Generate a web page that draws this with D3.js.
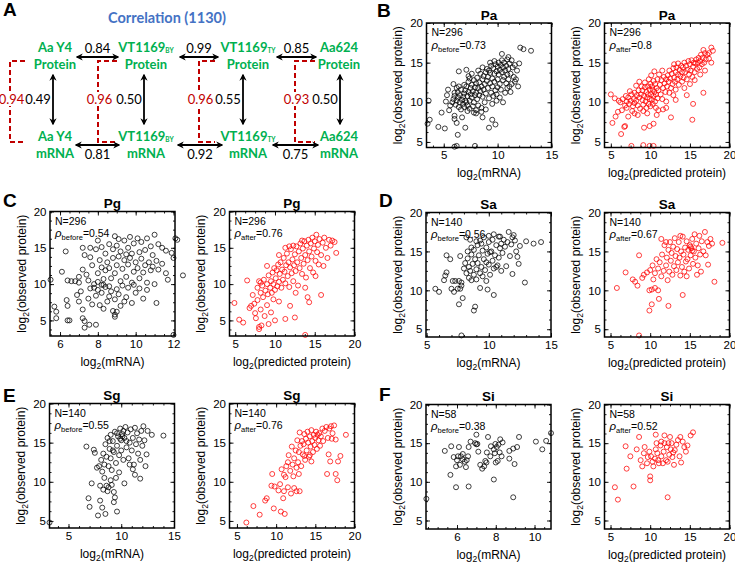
<!DOCTYPE html>
<html>
<head>
<meta charset="utf-8">
<script src="https://cdn.jsdelivr.net/npm/d3@7"></script>
<style>
  body { margin: 0; background: #fff; }
</style>
</head>
<body>
<svg width="735" height="562"></svg>
<script>
// ---------- panel A values ----------
var strainNames = ['Aa Y4', 'VT1169', 'VT1169', 'Aa624'];
var strainSubs = ['', 'BY', 'TY', ''];
var protProtCorr = [0.84, 0.99, 0.85];
var mrnaMrnaCorr = [0.81, 0.92, 0.75];
var protMrnaCorr = [0.49, 0.50, 0.55, 0.50];
var predCorr = [0.94, 0.96, 0.96, 0.93];

// ---------- scatter values: [log2 x, log2 observed protein] ----------
var species = ['Pa', 'Pg', 'Sa', 'Sg', 'Si'];
var counts = [296, 296, 140, 140, 58];
var rhoBefore = [0.73, 0.54, 0.56, 0.55, 0.38];
var rhoAfter = [0.8, 0.76, 0.67, 0.76, 0.52];
var yTicks = [5, 10, 15, 20];
var xTicksMrna = [[5, 10, 15], [6, 8, 10, 12], [5, 10, 15], [5, 10, 15], [6, 8, 10]];
var xTicksPred = [5, 10, 15, 20];

var paMrna = [[3.5,7.3],[3.7,7.8],[3.6,10.2],[4.5,6.9],[5.1,6.7],[4.8,8.7],[5.2,10.1],[5.3,10.9],[5.4,11.6],[5.5,9.0],[5.6,9.6],[6.0,4.4],[6.2,4.5],[6.3,5.9],[6.2,7.4],[6.0,7.9],[6.0,8.3],[6.4,13.9],[6.7,8.1],[7.0,6.8],[7.9,4.5],[8.6,8.1],[9.2,6.8],[9.5,7.8],[9.8,7.2],[12.1,16.9],[12.4,16.7],[13.1,16.5],[12.0,14.9],[11.6,12.6],[11.9,12.0],[11.2,11.3],[6.9,12.2],[7.3,13.3],[7.1,14.1],[10.4,16.1],[11.0,15.7],[10.9,15.4],
  [5.8,10.0],[5.9,10.4],[6.0,10.8],[6.1,9.7],[6.2,10.2],[6.3,10.6],[6.3,11.3],[6.4,9.4],[6.5,10.0],[6.5,10.9],[6.6,11.6],[6.7,10.3],[6.8,9.8],[6.8,10.7],[6.9,11.1],[6.0,11.2],[6.2,11.8],[6.6,9.1],[6.9,9.4],[7.0,10.2],[6.4,12.0],[5.9,12.3],
  [7.0,11.5],[7.1,10.0],[7.1,12.0],[7.2,9.6],[7.2,10.8],[7.3,11.3],[7.3,12.6],[7.4,10.2],[7.4,9.2],[7.5,11.0],[7.5,11.8],[7.6,10.6],[7.6,12.2],[7.7,9.5],[7.7,11.4],[7.8,10.0],[7.8,12.8],[7.9,10.9],[7.9,11.9],[8.0,9.0],[8.0,11.2],[8.0,12.4],[7.4,13.0],[7.6,13.6],[7.2,8.9],[7.8,8.7],
  [8.1,10.4],[8.1,13.1],[8.2,11.8],[8.2,9.6],[8.3,12.5],[8.3,10.9],[8.4,11.4],[8.4,13.6],[8.5,12.0],[8.5,9.3],[8.6,10.7],[8.6,12.9],[8.7,11.6],[8.7,13.3],[8.8,12.3],[8.8,10.0],[8.9,13.8],[8.9,11.1],[9.0,12.7],[9.0,14.2],[8.2,14.0],[8.6,14.4],[8.0,8.6],[8.5,8.8],[8.9,9.1],
  [9.1,13.2],[9.1,11.8],[9.2,14.0],[9.2,10.5],[9.3,12.4],[9.3,13.7],[9.4,14.6],[9.4,11.2],[9.5,13.0],[9.5,12.0],[9.6,14.3],[9.6,10.8],[9.7,13.6],[9.7,12.6],[9.8,14.8],[9.8,11.5],[9.9,13.9],[9.9,10.2],[10.0,14.5],[10.0,12.9],[9.3,15.0],[9.7,15.2],[9.5,9.8],[9.9,11.0],
  [10.1,13.5],[10.1,15.0],[10.2,14.1],[10.2,12.3],[10.3,14.7],[10.3,11.6],[10.4,13.8],[10.4,15.3],[10.5,14.4],[10.5,12.8],[10.6,15.0],[10.6,13.2],[10.7,14.0],[10.7,11.2],[10.8,14.6],[10.8,12.4],[10.9,13.5],[11.0,14.2],[11.0,12.9],[10.2,10.6],[10.5,10.0],[10.9,11.8],[10.0,11.9],
  [11.1,14.9],[11.2,13.6],[11.3,15.3],[11.4,14.4],[11.5,13.2],[11.6,14.7],[11.7,12.9],[11.8,14.0],[11.3,12.3],[11.1,12.0]];

var paPredicted = [[5.0,11.0],[5.2,7.4],[5.6,8.2],[5.9,8.8],[6.3,6.0],[6.7,6.9],[6.8,7.0],[7.6,4.5],[9.1,4.6],[9.9,4.5],[10.4,4.5],[9.2,6.8],[9.9,7.0],[10.4,7.3],[12.6,8.1],[15.3,7.8],[15.4,9.8],[14.6,10.9],[16.7,11.2],[5.5,10.5],[6.0,10.2],[6.4,9.0],[7.2,8.2],[7.0,9.3],[8.0,8.6],[12.0,9.3],[13.2,10.3],[11.6,9.1],[17.7,16.9],[17.9,16.5],[17.4,16.2],[17.7,15.0],[16.9,14.0],[17.4,15.5],
  [6.2,10.0],[6.5,10.4],[6.8,9.6],[7.0,10.1],[7.2,10.6],[7.3,9.8],[7.5,10.2],[7.6,11.0],[7.8,9.5],[7.9,10.4],[8.0,11.2],[8.0,9.9],[7.4,11.4],[6.9,10.8],[7.7,8.9],[8.2,12.1],
  [8.2,10.2],[8.3,10.9],[8.4,9.6],[8.5,11.5],[8.6,10.6],[8.7,9.2],[8.8,11.0],[8.9,12.0],[9.0,10.3],[9.0,11.5],[9.1,9.7],[9.2,10.8],[9.3,11.9],[9.3,12.5],[9.4,10.1],[9.5,11.3],[9.5,9.3],[9.6,10.6],[9.7,12.0],[9.7,11.0],[9.8,9.8],[9.8,12.9],[9.9,11.6],[9.9,10.4],[10.0,12.3],[10.0,9.5],[8.6,12.6],[9.1,8.9],[9.6,8.6],[8.4,8.4],
  [10.1,11.0],[10.1,13.4],[10.2,10.3],[10.2,12.0],[10.3,11.6],[10.3,9.8],[10.4,12.7],[10.4,10.8],[10.5,11.3],[10.5,13.9],[10.6,10.1],[10.6,12.3],[10.7,11.0],[10.7,9.3],[10.8,11.8],[10.9,12.9],[10.9,10.5],[11.0,11.5],[11.0,9.0],[11.2,12.2],[11.3,11.0],[11.4,12.8],[11.5,10.4],[11.6,11.8],[11.7,13.2],[11.8,12.4],[11.9,11.3],[12.0,12.9],[11.1,13.5],[11.5,14.0],[12.0,10.1],[10.8,8.4],
  [12.1,12.0],[12.2,13.4],[12.3,12.6],[12.4,14.0],[12.5,13.0],[12.6,11.8],[12.7,13.6],[12.8,12.3],[12.9,14.3],[13.0,13.1],[13.0,14.8],[13.1,12.6],[13.2,13.8],[13.3,14.4],[13.4,12.9],[13.5,13.5],[13.5,14.9],[13.6,12.2],[13.7,14.1],[13.8,13.3],[13.9,14.6],[14.0,13.8],[14.0,12.6],[12.4,11.2],[13.2,11.6],[12.9,10.9],
  [14.1,14.4],[14.2,13.1],[14.3,15.0],[14.4,13.8],[14.5,14.6],[14.6,12.9],[14.7,14.1],[14.8,15.2],[14.9,13.5],[15.0,14.8],[15.1,14.0],[15.2,15.3],[15.3,13.2],[15.4,14.5],[15.5,15.0],[15.6,13.8],[15.7,14.9],[15.8,15.4],[15.9,14.2],[16.0,15.0],[14.3,11.8],[15.0,12.3],[15.6,12.8],
  [16.1,15.6],[16.2,14.4],[16.3,15.2],[16.4,16.0],[16.5,14.8],[16.6,15.6],[16.7,16.6],[16.8,15.0],[16.9,16.2],[17.0,15.4],[17.2,16.0],[16.3,13.5]];

var pgMrna = [[7.2,15.0],[7.3,14.0],[7.6,15.0],[7.9,14.8],[8.2,15.1],[8.4,14.2],[8.6,15.5],[8.8,14.8],[9.0,15.3],[9.2,14.5],[9.4,16.0],[9.6,15.0],[9.7,16.5],[9.9,15.6],[10.1,16.3],[10.3,15.8],[10.5,14.7],[10.6,16.3],[10.8,15.2],[11.0,16.8],[11.2,15.5],[11.4,15.0],[11.6,14.6],[12.1,16.3],[12.2,16.1],[11.9,14.3],[10.9,14.0],[9.1,16.2],[8.9,16.6],[9.8,14.2],[9.5,14.1],[8.0,16.0],[7.6,13.7],[10.2,14.4],
  [6.3,14.5],[6.1,11.7],[6.4,10.5],[6.6,10.4],[6.8,10.4],[7.0,10.2],[7.2,12.0],[7.4,11.3],[7.5,10.5],[7.7,12.6],[7.8,10.0],[8.0,11.5],[8.1,13.3],[8.2,12.3],[8.3,10.7],[8.4,11.9],[8.5,13.0],[8.6,12.2],[8.7,10.8],[8.8,13.6],[8.9,11.5],[9.0,12.6],[9.1,13.8],[9.2,10.4],[9.3,12.1],[9.4,13.3],[9.5,11.0],[9.6,12.7],[9.7,13.6],[9.8,10.2],[9.9,11.7],[10.0,13.0],[10.1,12.2],[10.2,10.8],[10.3,13.5],[10.4,11.6],[10.5,12.6],[10.6,10.2],[10.7,13.0],[10.8,11.9],[10.9,12.4],[11.0,10.0],[11.1,13.2],[11.2,12.0],[11.4,12.8],[11.6,11.5],[11.7,10.6],[12.5,11.2],[12.0,13.6],[8.0,10.3],[8.3,9.9],[7.0,11.0],
  [5.5,10.6],[5.7,6.9],[5.8,6.2],[5.8,5.3],[6.35,7.8],[6.4,7.0],[6.4,5.0],[6.5,5.0],[6.9,8.5],[7.0,7.6],[7.1,9.0],[7.2,6.5],[7.2,5.3],[7.3,4.9],[7.3,4.0],[7.5,8.0],[7.55,4.4],[7.6,9.4],[7.7,7.2],[7.9,4.4],[7.9,8.4],[8.0,9.2],[8.1,7.1],[8.2,8.8],[8.3,6.6],[8.4,9.6],[8.5,7.6],[8.6,8.3],[8.7,9.0],[8.8,6.3],[8.9,7.9],[9.0,6.2],[9.0,9.3],[9.1,8.6],[9.2,7.0],[9.3,9.8],[9.5,8.2],[9.6,9.5],[9.8,7.4],[10.0,8.8],[10.2,9.4],[10.4,8.0],[11.1,7.4],[12.0,3.0],[8.9,5.5],[8.9,5.8],[9.4,7.6],[8.2,9.9],[7.8,9.5],[8.6,9.7],[9.9,9.9],[10.6,9.2]];

var pgPredicted = [[4.9,7.4],[5.5,5.1],[6.0,4.7],[6.5,10.5],[6.8,6.7],[7.0,7.0],[7.2,8.5],[7.5,6.0],[7.4,7.3],[7.6,5.3],[7.8,7.8],[8.0,4.1],[8.3,4.3],[8.0,3.8],[8.2,6.5],[8.5,8.2],[8.7,5.6],[9.0,7.1],[9.2,4.5],[9.5,6.1],[10.0,5.0],[11.3,5.2],[12.5,5.4],[13.8,3.0],[14.3,7.5],[15.8,8.5],[11.9,7.0],[10.5,7.6],[9.8,7.9],
  [7.8,9.5],[8.0,10.4],[8.2,8.8],[8.4,9.8],[8.6,10.6],[8.8,9.1],[9.0,10.0],[9.1,8.6],[9.2,11.2],[9.4,9.5],[9.5,10.4],[9.6,8.8],[9.7,11.6],[9.8,10.0],[9.9,12.2],[10.0,9.2],[10.1,10.8],[10.2,11.9],[10.3,9.7],[10.4,12.7],[10.5,10.3],[10.6,11.4],[10.7,13.0],[10.8,9.5],[10.9,12.0],[11.0,10.6],[11.1,13.6],[11.2,11.7],[11.3,10.1],[11.4,12.6],[11.5,14.2],[11.6,11.1],[11.7,13.0],[11.8,9.6],[11.9,12.3],[12.0,14.8],[12.1,11.5],[12.2,13.4],[12.3,10.4],[12.4,12.6],[12.5,14.1],[12.6,11.8],[12.7,15.2],[12.8,13.0],[12.9,9.8],[13.0,14.5],[13.1,12.2],[13.2,15.6],[13.3,13.6],[13.4,11.4],[13.5,14.9],[13.6,12.8],[13.7,15.9],[13.8,14.0],[13.9,10.9],[14.0,15.3],[14.1,13.3],[14.2,16.1],[14.3,14.5],[14.4,12.2],[14.5,15.6],[14.6,13.8],[14.7,16.4],[14.8,11.6],[14.9,14.9],[15.0,15.9],[15.1,13.2],[15.2,16.8],[15.3,14.4],[15.4,15.4],[15.5,12.7],[15.6,16.2],[15.8,14.0],[16.0,15.7],[16.2,16.4],[16.4,15.0],[16.6,13.6],[16.8,16.1],[17.0,15.3],[17.2,16.0],[17.5,15.8],[17.7,14.3],[16.1,12.5],[15.1,11.1],[11.3,15.0],[10.5,14.0],[9.0,12.5],[8.2,10.2],[12.6,8.8],[13.8,9.5],[14.1,8.2],[12.3,15.3],[11.8,15.2],[13.4,16.0]];

var saMrna = [[5.7,10.2],[6.0,9.8],[6.4,11.3],[6.5,11.9],[6.6,12.3],[6.6,14.5],[6.9,14.0],[7.0,10.2],[7.1,11.2],[7.2,9.8],[7.3,11.2],[7.5,10.2],[7.6,11.2],[7.7,10.2],[7.8,11.0],[7.8,10.6],[7.6,8.2],[7.9,9.0],[7.7,14.4],[7.8,4.2],[8.2,16.8],[8.5,16.5],[8.8,7.4],[8.9,7.9],[9.3,10.3],[9.9,10.1],[10.4,9.4],
  [8.0,12.8],[8.1,13.5],[8.2,12.2],[8.3,14.1],[8.4,11.6],[8.4,13.0],[8.5,12.5],[8.6,14.6],[8.6,11.3],[8.7,13.4],[8.8,12.0],[8.8,15.2],[8.9,14.0],[9.0,12.7],[9.0,11.4],[9.1,15.8],[9.1,13.5],[9.2,14.5],[9.3,12.2],[9.3,16.4],[9.4,13.0],[9.5,15.1],[9.5,11.8],[9.6,14.0],[9.6,16.8],[9.7,12.6],[9.8,15.5],[9.8,13.6],[9.9,14.7],[10.0,13.3],[10.0,16.2],[10.0,17.0],[10.1,12.0],[10.2,15.0],[10.3,13.8],[10.3,16.5],[10.4,12.8],[10.5,14.5],[10.6,15.8],[10.7,13.2],[10.8,16.9],[10.8,14.2],[10.9,15.4],[11.0,16.0],[11.0,12.5],[11.1,14.8],[11.2,16.5],[11.3,15.6],[11.4,13.1],[11.5,16.2],[11.6,17.5],[11.7,14.4],[11.8,15.9],[11.9,12.1],[12.0,17.1],[12.1,16.4],[12.2,15.0],[12.3,14.3],[12.4,13.4],[12.5,15.7],[12.9,11.0],[13.0,16.3],[13.6,16.0],[14.2,16.2],[9.0,16.3],[8.6,15.5],[9.4,16.0],[10.4,17.2],[10.9,16.9],[11.9,16.8],[10.6,13.0],[9.8,11.2],[10.1,14.9],[8.3,15.0]];

var saPredicted = [[5.8,10.3],[6.9,12.3],[7.8,11.4],[8.1,11.1],[8.4,10.6],[8.6,14.5],[9.2,12.0],[9.6,12.3],[9.9,10.0],[10.2,10.1],[9.9,7.4],[10.2,8.2],[8.6,4.2],[11.1,8.9],[12.3,8.0],[14.1,9.4],[18.1,11.1],[19.1,16.1],[9.0,11.6],[10.6,10.3],[11.0,10.0],[10.4,11.4],
  [10.0,12.6],[10.3,13.2],[10.6,12.2],[10.8,14.0],[11.0,12.8],[11.2,13.6],[11.4,11.8],[11.5,14.6],[11.7,12.5],[11.8,15.8],[12.0,13.2],[12.1,14.2],[12.2,11.3],[12.3,15.2],[12.4,12.4],[12.5,16.2],[12.6,13.8],[12.7,14.8],[12.8,12.0],[12.9,15.6],[13.0,13.1],[13.1,16.7],[13.2,14.4],[13.3,12.6],[13.4,15.3],[13.5,13.6],[13.6,16.2],[13.7,14.2],[13.8,11.9],[13.9,15.0],[14.0,13.0],[14.1,16.9],[14.2,14.6],[14.3,12.4],[14.4,15.5],[14.5,13.7],[14.6,16.3],[14.7,14.0],[14.8,15.2],[14.9,12.8],[15.0,15.8],[15.1,14.5],[15.2,15.4],[15.3,16.6],[15.4,13.4],[15.5,15.0],[15.6,17.2],[15.7,14.2],[15.8,16.0],[16.0,13.2],[16.1,15.4],[16.2,17.0],[16.3,14.6],[16.5,16.3],[16.7,15.0],[16.9,17.5],[17.0,14.5],[17.2,16.2],[17.4,15.7],[17.6,16.6],[17.8,16.0],[17.3,13.3],[16.4,12.4],[15.9,12.0],[14.6,11.8],[12.0,16.2],[11.4,16.6],[15.1,15.6],[15.3,15.1],[13.8,17.0]];

var sgMrna = [[3.2,4.8],[6.7,14.5],[6.9,7.9],[7.0,6.8],[7.2,9.8],[7.4,14.1],[7.5,13.7],[7.7,11.8],[7.9,12.0],[8.0,7.6],[7.8,5.7],[8.2,6.7],[8.0,9.5],[8.3,9.0],[8.5,5.9],[9.6,6.2],[9.3,8.7],[9.4,8.0],[9.3,7.4],[14.0,15.9],[12.9,16.0],[12.1,17.1],[11.8,10.4],[11.3,10.9],[11.8,12.8],[12.4,13.5],[8.2,11.3],[8.4,10.5],[8.6,9.5],[8.8,9.3],[9.0,10.2],[8.7,8.8],[9.1,9.6],[9.5,10.5],[10.3,9.8],[9.8,11.2],
  [8.1,12.8],[8.3,13.6],[8.4,12.2],[8.5,14.8],[8.6,13.2],[8.7,15.6],[8.8,12.0],[8.9,14.2],[9.0,16.0],[9.0,13.0],[9.1,11.5],[9.2,15.2],[9.3,13.8],[9.4,16.4],[9.5,12.4],[9.6,14.6],[9.7,15.8],[9.8,13.4],[9.9,16.8],[10.0,15.3],[10.0,14.0],[10.1,16.1],[10.2,12.8],[10.3,15.6],[10.4,17.0],[10.5,14.4],[10.6,16.3],[10.7,13.0],[10.8,15.0],[10.9,16.7],[11.0,14.0],[11.1,15.6],[11.2,12.2],[11.3,16.9],[11.4,14.8],[11.5,16.2],[11.6,13.6],[11.7,15.4],[11.9,16.5],[12.0,14.6],[12.2,15.3],[12.3,12.0],[10.2,16.5],[9.9,15.5],[10.1,15.8],[9.6,16.2],[10.5,15.2],[9.2,14.0],[8.9,15.2],[10.8,12.2],[11.1,11.6],[12.5,16.5]];

var sgPredicted = [[6.2,4.8],[7.1,6.9],[7.9,5.8],[8.6,7.6],[8.8,7.9],[9.4,9.5],[9.5,11.0],[9.8,9.4],[9.7,6.6],[10.6,6.2],[11.1,5.9],[10.9,7.9],[10.3,8.9],[10.5,9.7],[11.0,8.8],[11.5,9.3],[11.9,8.5],[12.3,9.2],[12.6,8.8],[13.0,8.8],[11.2,10.6],[11.5,12.5],[17.6,11.0],[17.9,12.6],[18.2,13.3],[18.9,16.0],[17.8,10.2],[16.5,11.0],[16.7,13.5],[16.9,12.6],[14.5,12.6],
  [10.7,11.6],[11.0,10.9],[11.3,12.0],[11.6,13.4],[11.8,11.4],[12.0,14.5],[12.1,12.2],[12.3,13.0],[12.5,14.0],[12.6,11.8],[12.7,15.3],[12.8,12.5],[12.9,13.8],[13.0,16.3],[13.1,14.6],[13.2,12.0],[13.3,15.2],[13.4,13.5],[13.5,14.8],[13.6,16.1],[13.7,12.8],[13.8,15.5],[13.9,14.0],[14.0,16.4],[14.1,15.0],[14.2,13.2],[14.3,15.8],[14.4,14.5],[14.5,16.6],[14.6,15.2],[14.7,13.8],[14.8,16.0],[14.9,14.7],[15.0,15.6],[15.1,16.4],[15.2,14.2],[15.3,16.0],[15.4,15.3],[15.5,16.2],[15.6,14.6],[15.7,15.8],[15.9,16.8],[16.0,15.2],[16.2,16.5],[16.4,17.0],[16.6,15.6],[16.8,16.8],[17.0,17.1],[17.2,16.2],[17.4,17.2],[17.6,15.4],[17.1,15.5],[14.3,13.4],[13.6,13.3],[12.2,10.7],[12.9,11.0]];

var siMrna = [[4.42,7.8],[5.37,14.0],[5.66,10.9],[5.7,14.6],[5.83,13.2],[5.95,12.0],[6.0,12.8],[6.05,13.3],[6.1,14.5],[6.2,13.3],[6.3,12.9],[6.4,12.6],[6.46,11.9],[6.57,13.3],[6.5,12.8],[6.6,14.5],[6.7,15.2],[5.95,9.3],[6.6,9.4],[6.94,15.0],[7.05,14.9],[7.0,16.1],[7.1,13.9],[7.2,12.2],[7.3,11.7],[7.4,12.0],[7.46,12.7],[7.52,12.5],[7.54,13.8],[7.6,15.8],[7.72,13.3],[7.9,14.2],[7.95,13.7],[7.98,14.9],[8.0,12.5],[7.9,10.3],[8.05,14.5],[8.14,14.8],[8.23,15.5],[8.3,13.3],[8.2,13.8],[8.7,14.0],[8.7,13.0],[8.9,14.3],[8.97,12.3],[8.9,8.0],[9.1,14.5],[9.2,15.8],[10.07,15.2],[10.4,14.2],[10.6,15.3],[10.85,16.3],[8.35,15.1],[6.3,13.6],[7.75,14.6],[8.1,12.7],[6.15,12.2],[7.0,14.85]];

var siPredicted = [[5.55,9.3],[5.93,7.7],[7.03,11.7],[6.9,14.6],[7.5,13.3],[7.9,9.4],[8.6,15.8],[8.3,14.2],[8.8,12.8],[9.0,12.0],[9.2,13.7],[9.3,14.5],[9.6,12.4],[9.7,13.2],[9.9,13.9],[10.0,10.7],[10.0,10.2],[10.1,13.3],[10.3,12.6],[10.4,12.0],[10.6,13.0],[10.7,14.2],[10.8,15.0],[10.7,16.1],[10.9,13.7],[11.0,12.8],[11.1,12.4],[11.3,14.7],[11.4,15.2],[11.4,13.3],[11.6,12.4],[11.7,13.9],[11.8,15.0],[12.0,12.8],[12.1,14.5],[12.2,8.0],[12.3,15.0],[12.4,13.5],[12.5,15.8],[12.6,14.2],[12.7,15.0],[12.8,13.2],[12.9,13.8],[13.0,12.2],[13.3,14.8],[13.5,15.4],[13.7,13.3],[13.9,12.5],[14.1,15.2],[14.3,14.5],[14.5,13.9],[14.7,14.7],[15.1,16.0],[15.4,16.4],[13.8,15.8],[13.1,14.1],[11.8,16.0],[12.2,12.6]];

var mrnaSets = [paMrna, pgMrna, saMrna, sgMrna, siMrna];
var predSets = [paPredicted, pgPredicted, saPredicted, sgPredicted, siPredicted];

// ---------- layout ----------
var FONT = "'Liberation Sans', Arial, sans-serif";
var CAL = "Lato, 'Open Sans', sans-serif";
var PW = 125, PH = 124.5;
var layout = [
  // [mRNA panel, predicted panel] per species; mx = minor x tick step
  [{x0:426.5, y0:23, xd:[3.4,15], yd:[4.3,20], mx:1}, {x0:604.5, y0:23, xd:[4.2,20], yd:[4.3,20], mx:1.25}],
  [{x0:50, y0:211.5, xd:[5.47,12.08], yd:[2.85,20], mx:0.5}, {x0:229.5, y0:211.5, xd:[4.28,20], yd:[2.85,20], mx:1.25}],
  [{x0:426, y0:212.5, xd:[4.95,15], yd:[4,20], mx:1}, {x0:604.5, y0:212.5, xd:[4.24,20], yd:[4,20], mx:1.25}],
  [{x0:49.5, y0:403.5, xd:[3.2,15.05], yd:[4.1,20], mx:1}, {x0:229.5, y0:403.5, xd:[4.05,20], yd:[4.1,20], mx:1.25}],
  [{x0:426, y0:404.5, xd:[4.4,10.85], yd:[3.9,20], mx:0.5}, {x0:604.5, y0:404.5, xd:[4.24,20], yd:[3.9,20], mx:1.25}]
];
var letters = [['A', 3, 16], ['B', 377, 17], ['C', 3, 207], ['D', 379, 207], ['E', 3, 402], ['F', 379, 401]];

var svg = d3.select('svg');

letters.forEach(function(l) {
  svg.append('text').attr('x', l[1]).attr('y', l[2])
    .attr('font-family', FONT).attr('font-size', 19).attr('font-weight', 'bold')
    .text(l[0]);
});

// ---------- panel A ----------
var colX = [55, 146, 248, 339];
var vArrowX = [53, 144, 243, 340];
var topArrows = [[77, 118], [180, 218], [277, 316]];
var botArrows = [[76, 119], [178, 222], [273, 318]];
var bracketX = [10, 98, 199, 295];
var bracketR = [25, 117, 215, 315];
var GREEN = '#00b050', DRED = '#c00000';
var fmt2 = d3.format('.2f');

var defs = svg.append('defs');
defs.append('marker').attr('id', 'ah').attr('viewBox', '0 0 10 10')
  .attr('refX', 8).attr('refY', 5).attr('markerWidth', 4).attr('markerHeight', 4)
  .attr('markerUnits', 'strokeWidth').attr('orient', 'auto-start-reverse')
  .append('path').attr('d', 'M0,0 L10,5 L0,10 L3,5 Z').attr('fill', '#000');

var gA = svg.append('g');
gA.append('text').attr('x', 167).attr('y', 23).attr('text-anchor', 'middle')
  .attr('font-family', CAL).attr('font-size', 14.5).attr('font-weight', 'bold')
  .attr('fill', '#4472c4').text('Correlation (1130)');

function strainLabel(i, y, second) {
  var t = gA.append('text').attr('x', colX[i]).attr('y', y).attr('text-anchor', 'middle')
    .attr('font-family', CAL).attr('font-size', 13).attr('font-weight', 'bold').attr('fill', GREEN);
  t.append('tspan').text(strainNames[i]);
  if (strainSubs[i]) t.append('tspan').attr('font-size', 6.5).attr('dy', 1).text(strainSubs[i]);
  gA.append('text').attr('x', colX[i]).attr('y', y + 16.5).attr('text-anchor', 'middle')
    .attr('font-family', CAL).attr('font-size', 13).attr('font-weight', 'bold').attr('fill', GREEN)
    .text(second);
}
strainNames.forEach(function(s, i) {
  strainLabel(i, 52, 'Protein');
  strainLabel(i, 141, 'mRNA');
});

function dblArrow(x1, y1, x2, y2) {
  gA.append('line').attr('x1', x1).attr('y1', y1).attr('x2', x2).attr('y2', y2)
    .attr('stroke', '#000').attr('stroke-width', 1.8)
    .attr('marker-start', 'url(#ah)').attr('marker-end', 'url(#ah)');
}
function numLabel(x, y, v, color) {
  return gA.append('text').attr('x', x).attr('y', y).attr('text-anchor', 'middle')
    .attr('font-family', CAL).attr('font-size', 13).attr('fill', color).text(fmt2(v));
}

// red dashed brackets (predicted vs observed)
predCorr.forEach(function(v, i) {
  var x0 = bracketX[i], x1 = bracketR[i];
  gA.append('path').attr('d', 'M' + x1 + ',61 H' + x0 + ' V142 H' + x1)
    .attr('fill', 'none').attr('stroke', DRED).attr('stroke-width', 2).attr('stroke-dasharray', '5,3');
  gA.append('rect').attr('x', x0 + 1.5 - 11).attr('y', 92).attr('width', 22).attr('height', 14).attr('fill', '#fff');
  numLabel(x0 + 1.5, 103.5, v, DRED);
});

protProtCorr.forEach(function(v, i) {
  dblArrow(topArrows[i][0], 57, topArrows[i][1], 57);
  numLabel((topArrows[i][0] + topArrows[i][1]) / 2, 53, v, '#000');
});
mrnaMrnaCorr.forEach(function(v, i) {
  dblArrow(botArrows[i][0], 145, botArrows[i][1], 145);
  numLabel((botArrows[i][0] + botArrows[i][1]) / 2, 158.5, v, '#000');
});
protMrnaCorr.forEach(function(v, i) {
  dblArrow(vArrowX[i], 75, vArrowX[i], 124);
  numLabel(vArrowX[i] - 15, 103.5, v, '#000');
});

// ---------- scatter panels ----------
function axisGroup(g, gen, tr, vals, size, labels) {
  var a = g.append('g').attr('transform', tr)
    .call(gen.tickValues(vals).tickSize(size).tickPadding(3.5)
      .tickFormat(labels ? d3.format('d') : function() { return ''; }));
  a.select('.domain').remove();
  a.selectAll('line').attr('stroke', '#000').attr('stroke-width', 0.9);
  a.attr('font-family', FONT).attr('font-size', 11.5);
  a.selectAll('text').attr('fill', '#000');
  return a;
}

function drawPanel(p, pts, color, xTicks, xLab, title, n, sub, rho) {
  var g = svg.append('g');
  var x = d3.scaleLinear().domain(p.xd).range([p.x0, p.x0 + PW]);
  var y = d3.scaleLinear().domain(p.yd).range([p.y0 + PH, p.y0]);
  var minorX = d3.range(Math.ceil(p.xd[0] / p.mx) * p.mx, p.xd[1] + 1e-9, p.mx);
  var minorY = d3.range(Math.ceil(p.yd[0] / 1.25) * 1.25, p.yd[1] + 1e-9, 1.25);
  var bottom = 'translate(0,' + (p.y0 + PH) + ')', top = 'translate(0,' + p.y0 + ')';
  var left = 'translate(' + p.x0 + ',0)', right = 'translate(' + (p.x0 + PW) + ',0)';

  g.selectAll('circle').data(pts).enter().append('circle')
    .attr('cx', function(d) { return x(d[0]); })
    .attr('cy', function(d) { return y(d[1]); })
    .attr('r', 2.5)
    .attr('fill', 'none').attr('stroke', color).attr('stroke-width', 0.75);

  axisGroup(g, d3.axisBottom(x), bottom, minorX, -2, false);
  axisGroup(g, d3.axisBottom(x), bottom, xTicks, -4, true);
  axisGroup(g, d3.axisTop(x), top, minorX, -2, false);
  axisGroup(g, d3.axisTop(x), top, xTicks, -4, false);
  axisGroup(g, d3.axisLeft(y), left, minorY, -2, false);
  axisGroup(g, d3.axisLeft(y), left, yTicks, -4, true);
  axisGroup(g, d3.axisRight(y), right, minorY, -2, false);
  axisGroup(g, d3.axisRight(y), right, yTicks, -4, false);

  g.append('rect').attr('x', p.x0).attr('y', p.y0).attr('width', PW).attr('height', PH)
    .attr('fill', 'none').attr('stroke', '#000').attr('stroke-width', 1.5);

  g.append('text').attr('x', p.x0 + PW / 2).attr('y', p.y0 - 3.5).attr('text-anchor', 'middle')
    .attr('font-family', FONT).attr('font-size', 13.5).attr('font-weight', 'bold').text(title);

  g.append('text').attr('x', p.x0 + 5).attr('y', p.y0 + 13)
    .attr('font-family', FONT).attr('font-size', 10.5).text('N=' + n);
  var r = g.append('text').attr('x', p.x0 + 5).attr('y', p.y0 + 25.5)
    .attr('font-family', FONT).attr('font-size', 10.5);
  r.append('tspan').attr('font-style', 'italic').attr('font-size', 11.5).text('\u03c1');
  r.append('tspan').attr('font-size', 7.5).attr('dy', 3).text(sub);
  r.append('tspan').attr('dy', -3).text('=' + rho);

  var xl = g.append('text').attr('x', p.x0 + PW / 2).attr('y', p.y0 + PH + 29.5).attr('text-anchor', 'middle')
    .attr('font-family', FONT).attr('font-size', 12);
  xl.append('tspan').text('log');
  xl.append('tspan').attr('font-size', 8.5).attr('dy', 3).text('2');
  xl.append('tspan').attr('dy', -3).text(xLab);

  var cy = p.y0 + PH / 2, cx = p.x0 - 24.5;
  var yl = g.append('text').attr('transform', 'translate(' + cx + ',' + cy + ') rotate(-90)')
    .attr('text-anchor', 'middle').attr('font-family', FONT).attr('font-size', 12);
  yl.append('tspan').text('log');
  yl.append('tspan').attr('font-size', 8.5).attr('dy', 3).text('2');
  yl.append('tspan').attr('dy', -3).text('(observed protein)');
}

species.forEach(function(s, i) {
  drawPanel(layout[i][0], mrnaSets[i], '#000', xTicksMrna[i], '(mRNA)', s, counts[i], 'before', rhoBefore[i]);
  drawPanel(layout[i][1], predSets[i], '#ff0000', xTicksPred, '(predicted protein)', s, counts[i], 'after', rhoAfter[i]);
});
</script>
</body>
</html>
